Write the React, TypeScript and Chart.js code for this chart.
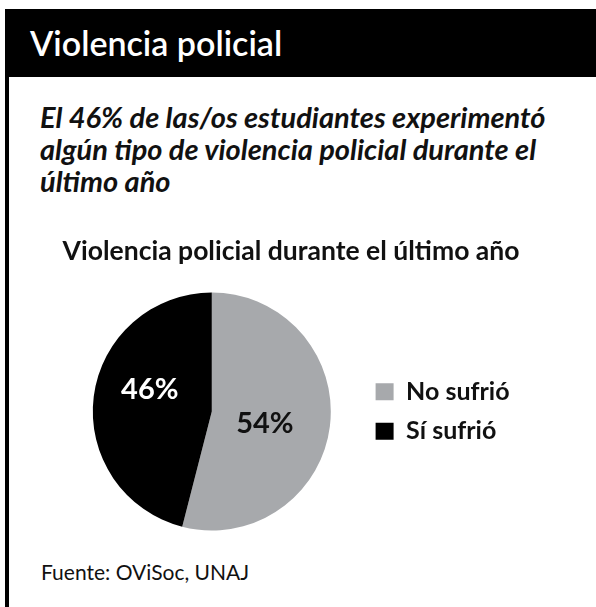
import React, { useEffect, useRef } from "react";
import { Chart, registerables } from "chart.js";

Chart.register(...registerables);

const headerText = "Violencia policial";
const subtitleLines = [
  "El 46% de las/os estudiantes experimentó",
  "algún tipo de violencia policial durante el",
  "último año",
];
const chartTitle = "Violencia policial durante el último año";
const categories = ["No sufrió", "Sí sufrió"];
const values = [54, 46];
const valueLabels = ["54%", "46%"];
const sliceColors = ["#a7a9ac", "#000000"];
const labelColors = ["#111111", "#ffffff"];
const sourceText = "Fuente: OViSoc, UNAJ";

const FONT = "Lato, 'Noto Sans', sans-serif";

const sliceLabelPlugin = {
  id: "sliceLabels",
  afterDatasetsDraw(chart: any, _args: any, opts: any) {
    const ctx = chart.ctx;
    const meta = chart.getDatasetMeta(0);
    ctx.save();
    ctx.font = `bold ${opts.size}px ${FONT}`;
    ctx.textAlign = "center";
    ctx.textBaseline = "middle";
    meta.data.forEach((arc: any, i: number) => {
      const p = arc.getProps(["x", "y", "startAngle", "endAngle", "outerRadius"], true);
      const mid = (p.startAngle + p.endAngle) / 2;
      const d = p.outerRadius * opts.ratios[i];
      const sh = opts.shifts[i];
      const x = p.x + Math.cos(mid) * d + sh[0];
      const y = p.y + Math.sin(mid) * d + sh[1];
      ctx.fillStyle = labelColors[i];
      ctx.fillText(valueLabels[i], x, y);
    });
    ctx.restore();
  },
};

function PieChart() {
  const ref = useRef<HTMLCanvasElement | null>(null);
  useEffect(() => {
    if (!ref.current) return;
    const chart = new Chart(ref.current, {
      type: "pie",
      data: {
        labels: categories,
        datasets: [
          {
            data: values,
            backgroundColor: sliceColors,
            borderWidth: 0,
          },
        ],
      },
      plugins: [sliceLabelPlugin as any],
      options: {
        animation: false,
        responsive: false,
        events: [],
        layout: { padding: { left: 62.5, right: 76.5, top: 0, bottom: 9.5 } },
        plugins: {
          tooltip: { enabled: false },
          title: {
            display: true,
            text: chartTitle,
            color: "#111111",
            font: { family: FONT, size: 27, weight: "bold" },
            padding: { top: 4.8, bottom: 25.3 },
          },
          legend: {
            display: true,
            position: "right",
            align: "center",
            fullSize: false,
            labels: {
              color: "#111111",
              font: { family: FONT, size: 25, weight: "bold" },
              boxWidth: 18,
              boxHeight: 17,
              padding: 14.5,
            },
          },
          sliceLabels: {
            size: 29,
            ratios: [0.45, 0.525],
            shifts: [
              [0, 5],
              [0, -14],
            ],
          },
        } as any,
      },
    });
    return () => chart.destroy();
  }, []);
  return (
    <canvas
      ref={ref}
      width={596}
      height={310}
      style={{ position: "absolute", left: 0, top: 230, width: 596, height: 310 }}
    />
  );
}

export default function App() {
  useEffect(() => {
    document.body.style.margin = "0";
  }, []);
  return (
    <div
      style={{
        position: "relative",
        width: 596,
        height: 607,
        background: "#ffffff",
        overflow: "hidden",
        fontFamily: FONT,
      }}
    >
      <div style={{ position: "absolute", left: 5, top: 9, width: 4, height: 598, background: "#000" }} />
      <div
        style={{
          position: "absolute",
          left: 5,
          top: 9,
          width: 591,
          height: 68,
          background: "#000",
          color: "#fff",
          fontSize: 34,
          fontWeight: 600,
          lineHeight: "68px",
          paddingLeft: 25,
          boxSizing: "border-box",
          whiteSpace: "nowrap",
        }}
      >
        {headerText}
      </div>
      <div
        style={{
          position: "absolute",
          left: 40,
          top: 100.8,
          fontSize: 29,
          fontWeight: "bold",
          fontStyle: "italic",
          lineHeight: "32px",
          color: "#111",
          whiteSpace: "nowrap",
        }}
      >
        {subtitleLines.map((l, i) => (
          <div key={i}>{l}</div>
        ))}
      </div>
      <PieChart />
      <div
        style={{
          position: "absolute",
          left: 41,
          top: 559.6,
          fontSize: 21,
          lineHeight: "24px",
          color: "#111",
          whiteSpace: "nowrap",
        }}
      >
        {sourceText}
      </div>
    </div>
  );
}
